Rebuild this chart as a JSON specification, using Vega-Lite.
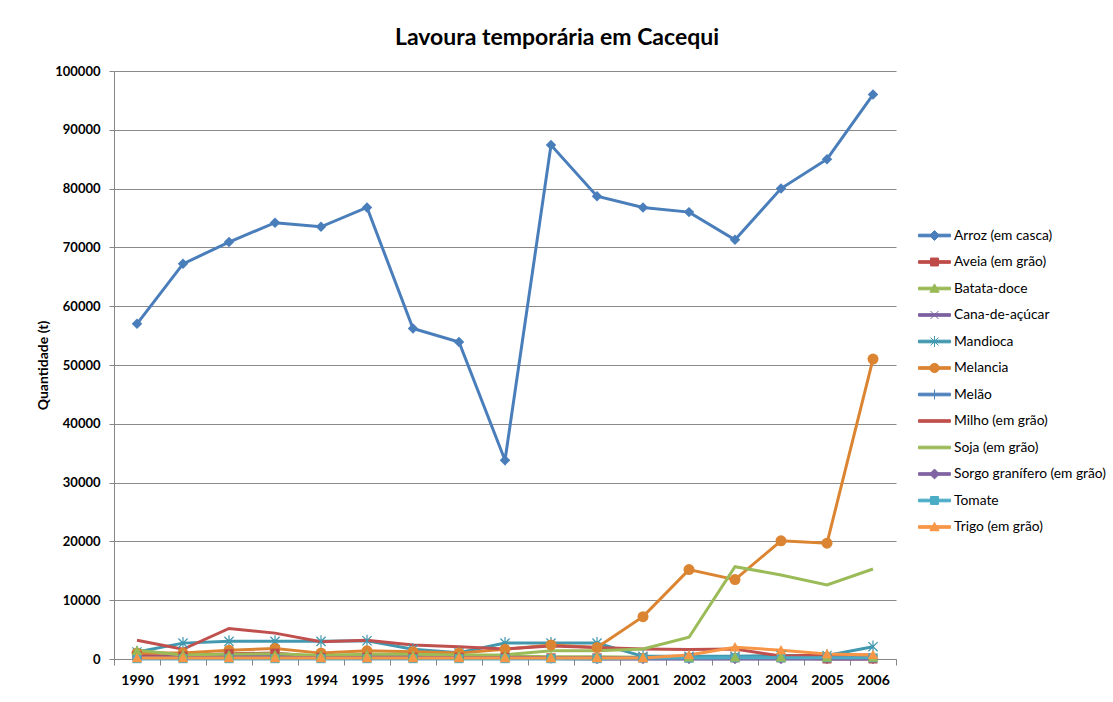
{
  "$schema": "https://vega.github.io/schema/vega-lite/v6.json",
  "width": 782,
  "height": 588,
  "autosize": {"type": "none"},
  "padding": {"left": 114, "top": 71, "right": 217, "bottom": 43},
  "background": "white",
  "title": {"text": "Lavoura temporária em Cacequi", "font": "Lato", "fontSize": 23, "fontWeight": "bold", "color": "#000000", "anchor": "middle", "dx": 52, "offset": 15},
  "config": {
    "view": {"stroke": null},
    "axis": {"labelFont": "Lato", "labelFontWeight": "bold", "labelFontSize": 13, "labelColor": "#000000", "domainColor": "#868686", "tickColor": "#868686", "gridColor": "#8a8a8a", "titleFont": "Lato", "titleColor": "#000000"}
  },
  "data": {"values": [
    {"ano": 1990, "serie": "Arroz (em casca)", "valor": 57000}, {"ano": 1991, "serie": "Arroz (em casca)", "valor": 67200}, {"ano": 1992, "serie": "Arroz (em casca)", "valor": 70900}, {"ano": 1993, "serie": "Arroz (em casca)", "valor": 74200}, {"ano": 1994, "serie": "Arroz (em casca)", "valor": 73500}, {"ano": 1995, "serie": "Arroz (em casca)", "valor": 76800}, {"ano": 1996, "serie": "Arroz (em casca)", "valor": 56200}, {"ano": 1997, "serie": "Arroz (em casca)", "valor": 53900}, {"ano": 1998, "serie": "Arroz (em casca)", "valor": 33800}, {"ano": 1999, "serie": "Arroz (em casca)", "valor": 87400}, {"ano": 2000, "serie": "Arroz (em casca)", "valor": 78700}, {"ano": 2001, "serie": "Arroz (em casca)", "valor": 76800}, {"ano": 2002, "serie": "Arroz (em casca)", "valor": 76000}, {"ano": 2003, "serie": "Arroz (em casca)", "valor": 71300}, {"ano": 2004, "serie": "Arroz (em casca)", "valor": 80000}, {"ano": 2005, "serie": "Arroz (em casca)", "valor": 85000}, {"ano": 2006, "serie": "Arroz (em casca)", "valor": 96000},
    {"ano": 1990, "serie": "Aveia (em grão)", "valor": 600}, {"ano": 1991, "serie": "Aveia (em grão)", "valor": 500}, {"ano": 1992, "serie": "Aveia (em grão)", "valor": 900}, {"ano": 1993, "serie": "Aveia (em grão)", "valor": 1000}, {"ano": 1994, "serie": "Aveia (em grão)", "valor": 300}, {"ano": 1995, "serie": "Aveia (em grão)", "valor": 300}, {"ano": 1996, "serie": "Aveia (em grão)", "valor": 300}, {"ano": 1997, "serie": "Aveia (em grão)", "valor": 300}, {"ano": 1998, "serie": "Aveia (em grão)", "valor": 300}, {"ano": 1999, "serie": "Aveia (em grão)", "valor": 200}, {"ano": 2000, "serie": "Aveia (em grão)", "valor": 200}, {"ano": 2001, "serie": "Aveia (em grão)", "valor": 200}, {"ano": 2002, "serie": "Aveia (em grão)", "valor": 200}, {"ano": 2003, "serie": "Aveia (em grão)", "valor": 200}, {"ano": 2004, "serie": "Aveia (em grão)", "valor": 200}, {"ano": 2005, "serie": "Aveia (em grão)", "valor": 0}, {"ano": 2006, "serie": "Aveia (em grão)", "valor": 0},
    {"ano": 1990, "serie": "Batata-doce", "valor": 1400}, {"ano": 1991, "serie": "Batata-doce", "valor": 700}, {"ano": 1992, "serie": "Batata-doce", "valor": 700}, {"ano": 1993, "serie": "Batata-doce", "valor": 700}, {"ano": 1994, "serie": "Batata-doce", "valor": 600}, {"ano": 1995, "serie": "Batata-doce", "valor": 700}, {"ano": 1996, "serie": "Batata-doce", "valor": 600}, {"ano": 1997, "serie": "Batata-doce", "valor": 500}, {"ano": 1998, "serie": "Batata-doce", "valor": 500}, {"ano": 1999, "serie": "Batata-doce", "valor": 400}, {"ano": 2000, "serie": "Batata-doce", "valor": 400}, {"ano": 2001, "serie": "Batata-doce", "valor": 300}, {"ano": 2002, "serie": "Batata-doce", "valor": 300}, {"ano": 2003, "serie": "Batata-doce", "valor": 300}, {"ano": 2004, "serie": "Batata-doce", "valor": 300}, {"ano": 2005, "serie": "Batata-doce", "valor": 300}, {"ano": 2006, "serie": "Batata-doce", "valor": 300},
    {"ano": 1990, "serie": "Cana-de-açúcar", "valor": 300}, {"ano": 1991, "serie": "Cana-de-açúcar", "valor": 400}, {"ano": 1992, "serie": "Cana-de-açúcar", "valor": 700}, {"ano": 1993, "serie": "Cana-de-açúcar", "valor": 800}, {"ano": 1994, "serie": "Cana-de-açúcar", "valor": 400}, {"ano": 1995, "serie": "Cana-de-açúcar", "valor": 500}, {"ano": 1996, "serie": "Cana-de-açúcar", "valor": 500}, {"ano": 1997, "serie": "Cana-de-açúcar", "valor": 400}, {"ano": 1998, "serie": "Cana-de-açúcar", "valor": 300}, {"ano": 1999, "serie": "Cana-de-açúcar", "valor": 200}, {"ano": 2000, "serie": "Cana-de-açúcar", "valor": 200}, {"ano": 2001, "serie": "Cana-de-açúcar", "valor": 200}, {"ano": 2002, "serie": "Cana-de-açúcar", "valor": 200}, {"ano": 2003, "serie": "Cana-de-açúcar", "valor": 200}, {"ano": 2004, "serie": "Cana-de-açúcar", "valor": 200}, {"ano": 2005, "serie": "Cana-de-açúcar", "valor": 200}, {"ano": 2006, "serie": "Cana-de-açúcar", "valor": 200},
    {"ano": 1990, "serie": "Mandioca", "valor": 1200}, {"ano": 1991, "serie": "Mandioca", "valor": 2700}, {"ano": 1992, "serie": "Mandioca", "valor": 3000}, {"ano": 1993, "serie": "Mandioca", "valor": 3000}, {"ano": 1994, "serie": "Mandioca", "valor": 3000}, {"ano": 1995, "serie": "Mandioca", "valor": 3100}, {"ano": 1996, "serie": "Mandioca", "valor": 1650}, {"ano": 1997, "serie": "Mandioca", "valor": 1050}, {"ano": 1998, "serie": "Mandioca", "valor": 2700}, {"ano": 1999, "serie": "Mandioca", "valor": 2700}, {"ano": 2000, "serie": "Mandioca", "valor": 2700}, {"ano": 2001, "serie": "Mandioca", "valor": 450}, {"ano": 2002, "serie": "Mandioca", "valor": 450}, {"ano": 2003, "serie": "Mandioca", "valor": 450}, {"ano": 2004, "serie": "Mandioca", "valor": 600}, {"ano": 2005, "serie": "Mandioca", "valor": 600}, {"ano": 2006, "serie": "Mandioca", "valor": 2100},
    {"ano": 1990, "serie": "Melancia", "valor": 1000}, {"ano": 1991, "serie": "Melancia", "valor": 1000}, {"ano": 1992, "serie": "Melancia", "valor": 1500}, {"ano": 1993, "serie": "Melancia", "valor": 1800}, {"ano": 1994, "serie": "Melancia", "valor": 1000}, {"ano": 1995, "serie": "Melancia", "valor": 1400}, {"ano": 1996, "serie": "Melancia", "valor": 1250}, {"ano": 1997, "serie": "Melancia", "valor": 1000}, {"ano": 1998, "serie": "Melancia", "valor": 1650}, {"ano": 1999, "serie": "Melancia", "valor": 2400}, {"ano": 2000, "serie": "Melancia", "valor": 1950}, {"ano": 2001, "serie": "Melancia", "valor": 7200}, {"ano": 2002, "serie": "Melancia", "valor": 15200}, {"ano": 2003, "serie": "Melancia", "valor": 13500}, {"ano": 2004, "serie": "Melancia", "valor": 20100}, {"ano": 2005, "serie": "Melancia", "valor": 19700}, {"ano": 2006, "serie": "Melancia", "valor": 51000},
    {"ano": 1990, "serie": "Melão", "valor": 50}, {"ano": 1991, "serie": "Melão", "valor": 50}, {"ano": 1992, "serie": "Melão", "valor": 50}, {"ano": 1993, "serie": "Melão", "valor": 50}, {"ano": 1994, "serie": "Melão", "valor": 50}, {"ano": 1995, "serie": "Melão", "valor": 50}, {"ano": 1996, "serie": "Melão", "valor": 50}, {"ano": 1997, "serie": "Melão", "valor": 50}, {"ano": 1998, "serie": "Melão", "valor": 50}, {"ano": 1999, "serie": "Melão", "valor": 50}, {"ano": 2000, "serie": "Melão", "valor": 50}, {"ano": 2001, "serie": "Melão", "valor": 50}, {"ano": 2002, "serie": "Melão", "valor": 50}, {"ano": 2003, "serie": "Melão", "valor": 50}, {"ano": 2004, "serie": "Melão", "valor": 50}, {"ano": 2005, "serie": "Melão", "valor": 50}, {"ano": 2006, "serie": "Melão", "valor": 50},
    {"ano": 1990, "serie": "Milho (em grão)", "valor": 3200}, {"ano": 1991, "serie": "Milho (em grão)", "valor": 1650}, {"ano": 1992, "serie": "Milho (em grão)", "valor": 5200}, {"ano": 1993, "serie": "Milho (em grão)", "valor": 4400}, {"ano": 1994, "serie": "Milho (em grão)", "valor": 2950}, {"ano": 1995, "serie": "Milho (em grão)", "valor": 3200}, {"ano": 1996, "serie": "Milho (em grão)", "valor": 2400}, {"ano": 1997, "serie": "Milho (em grão)", "valor": 2100}, {"ano": 1998, "serie": "Milho (em grão)", "valor": 1700}, {"ano": 1999, "serie": "Milho (em grão)", "valor": 2200}, {"ano": 2000, "serie": "Milho (em grão)", "valor": 1950}, {"ano": 2001, "serie": "Milho (em grão)", "valor": 1700}, {"ano": 2002, "serie": "Milho (em grão)", "valor": 1600}, {"ano": 2003, "serie": "Milho (em grão)", "valor": 1700}, {"ano": 2004, "serie": "Milho (em grão)", "valor": 500}, {"ano": 2005, "serie": "Milho (em grão)", "valor": 700}, {"ano": 2006, "serie": "Milho (em grão)", "valor": 700},
    {"ano": 1990, "serie": "Soja (em grão)", "valor": 1500}, {"ano": 1991, "serie": "Soja (em grão)", "valor": 700}, {"ano": 1992, "serie": "Soja (em grão)", "valor": 800}, {"ano": 1993, "serie": "Soja (em grão)", "valor": 900}, {"ano": 1994, "serie": "Soja (em grão)", "valor": 600}, {"ano": 1995, "serie": "Soja (em grão)", "valor": 800}, {"ano": 1996, "serie": "Soja (em grão)", "valor": 800}, {"ano": 1997, "serie": "Soja (em grão)", "valor": 700}, {"ano": 1998, "serie": "Soja (em grão)", "valor": 700}, {"ano": 1999, "serie": "Soja (em grão)", "valor": 1400}, {"ano": 2000, "serie": "Soja (em grão)", "valor": 1400}, {"ano": 2001, "serie": "Soja (em grão)", "valor": 1700}, {"ano": 2002, "serie": "Soja (em grão)", "valor": 3700}, {"ano": 2003, "serie": "Soja (em grão)", "valor": 15700}, {"ano": 2004, "serie": "Soja (em grão)", "valor": 14300}, {"ano": 2005, "serie": "Soja (em grão)", "valor": 12600}, {"ano": 2006, "serie": "Soja (em grão)", "valor": 15300},
    {"ano": 1990, "serie": "Sorgo granífero (em grão)", "valor": 200}, {"ano": 1991, "serie": "Sorgo granífero (em grão)", "valor": 200}, {"ano": 1992, "serie": "Sorgo granífero (em grão)", "valor": 300}, {"ano": 1993, "serie": "Sorgo granífero (em grão)", "valor": 300}, {"ano": 1994, "serie": "Sorgo granífero (em grão)", "valor": 200}, {"ano": 1995, "serie": "Sorgo granífero (em grão)", "valor": 200}, {"ano": 1996, "serie": "Sorgo granífero (em grão)", "valor": 200}, {"ano": 1997, "serie": "Sorgo granífero (em grão)", "valor": 200}, {"ano": 1998, "serie": "Sorgo granífero (em grão)", "valor": 200}, {"ano": 1999, "serie": "Sorgo granífero (em grão)", "valor": 100}, {"ano": 2000, "serie": "Sorgo granífero (em grão)", "valor": 0}, {"ano": 2001, "serie": "Sorgo granífero (em grão)", "valor": 0}, {"ano": 2002, "serie": "Sorgo granífero (em grão)", "valor": 0}, {"ano": 2003, "serie": "Sorgo granífero (em grão)", "valor": 0}, {"ano": 2004, "serie": "Sorgo granífero (em grão)", "valor": 0}, {"ano": 2005, "serie": "Sorgo granífero (em grão)", "valor": 0}, {"ano": 2006, "serie": "Sorgo granífero (em grão)", "valor": 0},
    {"ano": 1990, "serie": "Tomate", "valor": 50}, {"ano": 1991, "serie": "Tomate", "valor": 50}, {"ano": 1992, "serie": "Tomate", "valor": 50}, {"ano": 1993, "serie": "Tomate", "valor": 50}, {"ano": 1994, "serie": "Tomate", "valor": 50}, {"ano": 1995, "serie": "Tomate", "valor": 50}, {"ano": 1996, "serie": "Tomate", "valor": 50}, {"ano": 1997, "serie": "Tomate", "valor": 50}, {"ano": 1998, "serie": "Tomate", "valor": 50}, {"ano": 1999, "serie": "Tomate", "valor": 50}, {"ano": 2000, "serie": "Tomate", "valor": 50}, {"ano": 2001, "serie": "Tomate", "valor": 150}, {"ano": 2002, "serie": "Tomate", "valor": 150}, {"ano": 2003, "serie": "Tomate", "valor": 200}, {"ano": 2004, "serie": "Tomate", "valor": 200}, {"ano": 2005, "serie": "Tomate", "valor": 200}, {"ano": 2006, "serie": "Tomate", "valor": 200},
    {"ano": 1990, "serie": "Trigo (em grão)", "valor": 150}, {"ano": 1991, "serie": "Trigo (em grão)", "valor": 150}, {"ano": 1992, "serie": "Trigo (em grão)", "valor": 150}, {"ano": 1993, "serie": "Trigo (em grão)", "valor": 150}, {"ano": 1994, "serie": "Trigo (em grão)", "valor": 150}, {"ano": 1995, "serie": "Trigo (em grão)", "valor": 150}, {"ano": 1996, "serie": "Trigo (em grão)", "valor": 150}, {"ano": 1997, "serie": "Trigo (em grão)", "valor": 150}, {"ano": 1998, "serie": "Trigo (em grão)", "valor": 150}, {"ano": 1999, "serie": "Trigo (em grão)", "valor": 150}, {"ano": 2000, "serie": "Trigo (em grão)", "valor": 150}, {"ano": 2001, "serie": "Trigo (em grão)", "valor": 150}, {"ano": 2002, "serie": "Trigo (em grão)", "valor": 700}, {"ano": 2003, "serie": "Trigo (em grão)", "valor": 2000}, {"ano": 2004, "serie": "Trigo (em grão)", "valor": 1500}, {"ano": 2005, "serie": "Trigo (em grão)", "valor": 850}, {"ano": 2006, "serie": "Trigo (em grão)", "valor": 700}
  ]},
  "encoding": {
    "x": {"field": "ano", "type": "quantitative", "title": null,
      "scale": {"domain": [1989.5, 2006.5], "nice": false, "zero": false},
      "axis": {"values": [1989.5, 1990.5, 1991.5, 1992.5, 1993.5, 1994.5, 1995.5, 1996.5, 1997.5, 1998.5, 1999.5, 2000.5, 2001.5, 2002.5, 2003.5, 2004.5, 2005.5, 2006.5],
        "labelExpr": "datum.value < 2006 ? format(datum.value + 0.5, 'd') : ''", "labelOffset": 23, "labelOverlap": false, "labelBound": false, "labelFlush": false,
        "grid": false, "tickSize": 6, "labelPadding": 8, "labelFontSize": 14}},
    "y": {"field": "valor", "type": "quantitative",
      "scale": {"domain": [0, 100000], "nice": false},
      "axis": {"values": [0, 10000, 20000, 30000, 40000, 50000, 60000, 70000, 80000, 90000, 100000], "format": "d", "grid": true, "tickSize": 5, "labelPadding": 9,
        "title": "Quantidade (t)", "titleFontSize": 14, "titleFontWeight": "bold", "titlePadding": 4}},
    "color": {"field": "serie", "type": "nominal",
      "scale": {"domain": ["Arroz (em casca)", "Aveia (em grão)", "Batata-doce", "Cana-de-açúcar", "Mandioca", "Melancia", "Melão", "Milho (em grão)", "Soja (em grão)", "Sorgo granífero (em grão)", "Tomate", "Trigo (em grão)"],
        "range": ["#4A7EBB", "#BE4B48", "#98B954", "#7D60A0", "#4198AF", "#DB8432", "#4F81BD", "#C0504D", "#9BBB59", "#8064A2", "#4BACC6", "#F79646"]},
      "legend": {"orient": "none", "legendX": 809, "legendY": 153, "title": null, "padding": 0,
        "symbolSize": 484, "labelOffset": 8, "rowPadding": 7.5, "labelFont": "Lato", "labelFontSize": 13.8, "labelColor": "#000000", "labelLimit": 300, "symbolStrokeWidth": 1,
        "encode": {"symbols": {"update": {
          "shape": {"signal": "['M-1.45,-0.12H1.45V0.12H-1.45ZM0,-0.45L0.45,0L0,0.45L-0.45,0Z', 'M-1.45,-0.12H1.45V0.12H-1.45ZM-0.36,-0.36H0.36V0.36H-0.36Z', 'M-1.45,-0.12H1.45V0.12H-1.45ZM0,-0.42L0.42,0.34H-0.42Z', 'M-1.45,-0.12H1.45V0.12H-1.45ZM-0.36,-0.36L0.36,0.36M-0.36,0.36L0.36,-0.36', 'M-1.45,-0.12H1.45V0.12H-1.45ZM-0.36,-0.36L0.36,0.36M-0.36,0.36L0.36,-0.36M0,-0.5V0.5', 'M-1.45,-0.12H1.45V0.12H-1.45ZM-0.42,0A0.42,0.42 0 1,1 0.42,0A0.42,0.42 0 1,1 -0.42,0Z', 'M-1.45,-0.12H1.45V0.12H-1.45ZM0,-0.45V0.45', 'M-1.45,-0.12H1.45V0.12H-1.45Z', 'M-1.45,-0.12H1.45V0.12H-1.45Z', 'M-1.45,-0.12H1.45V0.12H-1.45ZM0,-0.45L0.45,0L0,0.45L-0.45,0Z', 'M-1.45,-0.12H1.45V0.12H-1.45ZM-0.36,-0.36H0.36V0.36H-0.36Z', 'M-1.45,-0.12H1.45V0.12H-1.45ZM0,-0.42L0.42,0.34H-0.42Z'][datum.index]"},
          "fill": {"scale": "color", "field": "value"},
          "stroke": {"scale": "color", "field": "value"},
          "strokeWidth": {"value": 1},
          "opacity": {"value": 1}
        }}}}
    }
  },
  "layer": [
    {"mark": {"type": "line", "strokeWidth": 3}},
    {"transform": [{"filter": {"field": "serie", "equal": "Cana-de-açúcar"}}],
      "mark": {"type": "point", "filled": false, "shape": "M-1,-1L1,1M-1,1L1,-1", "size": 64, "strokeWidth": 1, "opacity": 1}},
    {"transform": [{"filter": {"field": "serie", "equal": "Mandioca"}}],
      "mark": {"type": "point", "filled": false, "shape": "M-0.75,-0.75L0.75,0.75M-0.75,0.75L0.75,-0.75M0,-1V1", "size": 150, "strokeWidth": 1.2, "opacity": 1}},
    {"transform": [{"filter": {"field": "serie", "equal": "Melão"}}],
      "mark": {"type": "point", "filled": false, "shape": "M-1,0H1M0,-1V1", "size": 64, "strokeWidth": 1, "opacity": 1}},
    {"transform": [{"filter": {"field": "serie", "equal": "Melancia"}}],
      "mark": {"type": "point", "filled": true, "shape": "circle", "size": 121, "opacity": 1}},
    {"transform": [{"filter": {"field": "serie", "oneOf": ["Arroz (em casca)", "Sorgo granífero (em grão)"]}}],
      "mark": {"type": "point", "filled": true, "shape": "M0,-1L1,0L0,1L-1,0Z", "size": 110, "opacity": 1}},
    {"transform": [{"filter": {"field": "serie", "oneOf": ["Aveia (em grão)", "Tomate"]}}],
      "mark": {"type": "point", "filled": true, "shape": "M-1,-1H1V1H-1Z", "size": 81, "opacity": 1}},
    {"transform": [{"filter": {"field": "serie", "oneOf": ["Batata-doce", "Trigo (em grão)"]}}],
      "mark": {"type": "point", "filled": true, "shape": "M0,-1L1,0.8H-1Z", "size": 110, "opacity": 1}}
  ]
}
